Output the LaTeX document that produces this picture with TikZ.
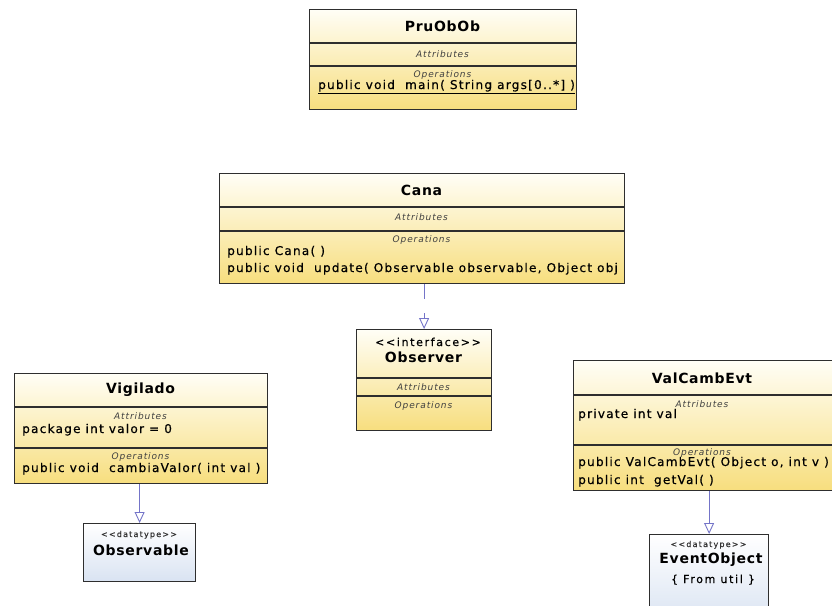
\documentclass[tikz,border=0pt]{standalone}
\usepackage{fontspec}
\setmainfont{DejaVu Sans}
\newfontfamily\memfont[LetterSpace=10,FakeBold=0.6]{DejaVu Sans}
\newfontfamily\ttlfont[LetterSpace=5]{DejaVu Sans}
\newfontfamily\cmpfont[LetterSpace=10]{DejaVu Sans}
\newfontfamily\stfont[LetterSpace=15,FakeBold=0.5]{DejaVu Sans}
\usetikzlibrary{arrows.meta}
\definecolor{clstop}{HTML}{FFFEF6}
\definecolor{clsbot}{HTML}{F7DE7E}
\definecolor{dttop}{HTML}{FFFFFF}
\definecolor{dtbot}{HTML}{D9E3F2}
\definecolor{edge}{HTML}{2E2E2E}
\definecolor{arrowblue}{HTML}{7474C8}
\begin{document}
\begin{tikzpicture}[x=1pt,y=-1pt,
  classbox/.style={draw=edge, line width=1.2pt, top color=clstop, bottom color=clsbot, inner sep=0, anchor=north west},
  dtbox/.style={draw=edge, line width=1.2pt, top color=dttop, bottom color=dtbot, inner sep=0, anchor=north west},
  sepline/.style={draw=edge, line width=1.1pt},
  ttl/.style={font=\ttlfont\bfseries\fontsize{14}{14}\selectfont, anchor=base, inner sep=0},
  cmp/.style={font=\cmpfont\itshape\fontsize{9}{9}\selectfont, text=black!75, anchor=base, inner sep=0},
  mem/.style={font=\memfont\fontsize{12.1}{12}\selectfont, anchor=base west, inner sep=0},
  stereo/.style={font=\stfont\fontsize{11}{11}\selectfont, anchor=base, inner sep=0},
  tinystereo/.style={font=\stfont\fontsize{8}{8}\selectfont, text=black!80, anchor=base, inner sep=0},
  gen/.style={draw=arrowblue, line width=0.9pt, -{Triangle[open, width=10pt, length=11pt]}}
]
\useasboundingbox[fill=white] (0,0) rectangle (832,605);

% PruObOb
\node[classbox, minimum width=267, minimum height=100] (pru) at (309,9) {};
\draw[sepline] (309,43) -- (576,43);
\draw[sepline] (309,66) -- (576,66);
\node[ttl] (pruT) at (442.5,31) {PruObOb};
\node[cmp] (pruA) at (442.5,57) {Attributes};
\node[cmp] (pruO) at (442.5,77) {Operations};
\node[mem] (pruM) at (318,89) {\underline{public void\ \ main( String args[0..*] )}};

% Cana
\node[classbox, minimum width=405, minimum height=110] (cana) at (219,173) {};
\draw[sepline] (219,207) -- (624,207);
\draw[sepline] (219,231) -- (624,231);
\node[ttl] (canaT) at (421.5,195) {Cana};
\node[cmp] (canaA) at (421.5,220) {Attributes};
\node[cmp] (canaO) at (421.5,242) {Operations};
\node[mem] (canaM1) at (227,255) {public Cana( )};
\node[mem] (canaM2) at (227,272) {public void\ \ update( Observable observable, Object obj};

% Observer
\node[classbox, minimum width=135, minimum height=101] (obsr) at (356,329) {};
\draw[sepline] (356,378) -- (491,378);
\draw[sepline] (356,396) -- (491,396);
\node[stereo] (obsrS) at (428,346) {{<}{<}interface{>}{>}};
\node[ttl] (obsrT) at (423.5,362) {Observer};
\node[cmp] (obsrA) at (423.5,390) {Attributes};
\node[cmp] (obsrO) at (423.5,408) {Operations};

% Vigilado
\node[classbox, minimum width=253, minimum height=110] (vig) at (14,373) {};
\draw[sepline] (14,407) -- (267,407);
\draw[sepline] (14,448) -- (267,448);
\node[ttl] (vigT) at (140.5,393) {Vigilado};
\node[cmp] (vigA) at (140.5,419) {Attributes};
\node[mem] (vigM1) at (22,433) {package int valor = 0};
\node[cmp] (vigO) at (140.5,459) {Operations};
\node[mem] (vigM2) at (22,472) {public void\ \ cambiaValor( int val )};

% Observable
\node[dtbox, minimum width=112, minimum height=58] (obsv) at (83,523) {};
\node[tinystereo] (obsvS) at (139,537) {{<}{<}datatype{>}{>}};
\node[ttl] (obsvT) at (141,555) {Observable};

% ValCambEvt
\node[classbox, minimum width=270, minimum height=130] (vce) at (573,360) {};
\draw[sepline] (573,395) -- (843,395);
\draw[sepline] (573,445) -- (843,445);
\node[ttl] (vceT) at (702,383) {ValCambEvt};
\node[cmp] (vceA) at (702,407) {Attributes};
\node[mem] (vceM1) at (578,418) {private int val};
\node[cmp] (vceO) at (702,455) {Operations};
\node[mem] (vceM2) at (578,466) {public ValCambEvt( Object o, int v )};
\node[mem] (vceM3) at (578,484) {public int\ \ getVal( )};

% EventObject
\node[dtbox, minimum width=119, minimum height=90] (evo) at (649,534) {};
\node[tinystereo] (evoS) at (708.5,547) {{<}{<}datatype{>}{>}};
\node[ttl] (evoT) at (711,563) {EventObject};
\node[stereo] (evoU) at (713,583) {\{ From util \}};

% Connectors
\draw[gen, dash pattern=on 15pt off 14pt] (cana.south -| obsr.north) -- (obsr.north);
\draw[gen] (vig.south -| obsv.north) -- (obsv.north);
\draw[gen] (vce.south -| evo.north) -- (evo.north);
\end{tikzpicture}
\end{document}
